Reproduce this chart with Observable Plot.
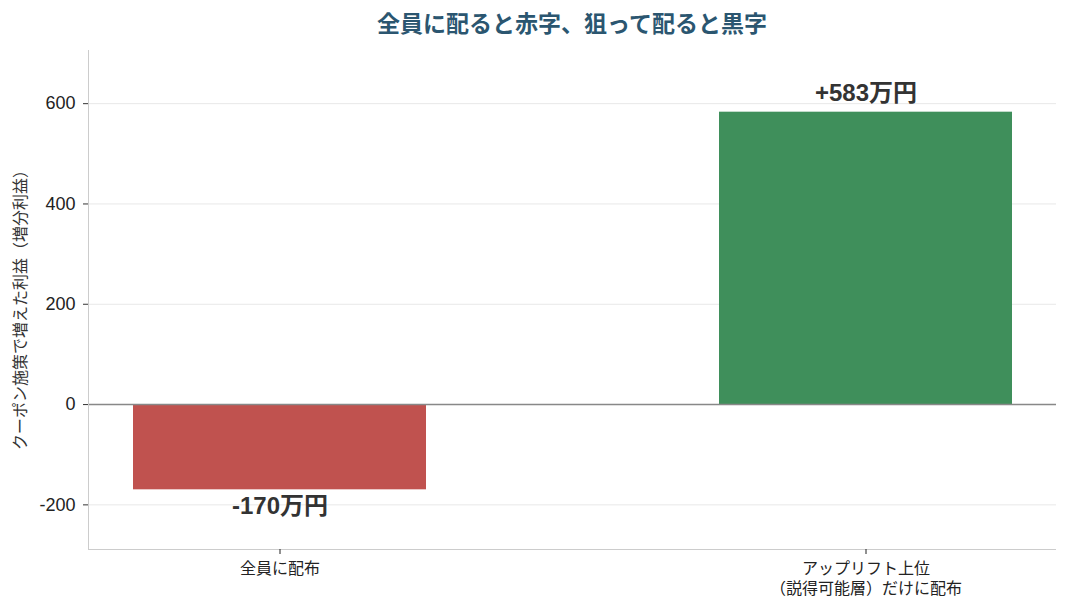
<!DOCTYPE html>
<html>
<head>
<meta charset="utf-8">
<script src="https://cdn.jsdelivr.net/npm/d3@7"></script>
<script src="https://cdn.jsdelivr.net/npm/@observablehq/plot@0.6"></script>
<style>
  body { margin: 0; background: #fff; font-family: "Liberation Sans", "Noto Sans CJK JP", sans-serif; }
  #title { height: 40px; line-height: 44px; text-align: center; padding-left: 77px; font-size: 23px; font-weight: 700; color: #2b5670; font-family: "Noto Sans CJK JP", sans-serif; }
  #chart svg { display: block; }
</style>
</head>
<body>
<div id="title"></div>
<div id="chart"></div>
<script>
const categories = ["全員に配布", "アップリフト上位\n（説得可能層）だけに配布"];
const values = [-170, 583];
const valueLabels = ["-170万円", "+583万円"];
const barColors = ["#c0524f", "#3f8f5b"];
const yTicks = [-200, 0, 200, 400, 600];
const yDomain = [-289, 706];
const yLabel = "クーポン施策で増えた利益（増分利益）";
const titleText = "全員に配ると赤字、狙って配ると黒字";

document.getElementById("title").textContent = titleText;

const data = categories.map((c, i) => ({cat: c, value: values[i], label: valueLabels[i], color: barColors[i]}));

const chart = Plot.plot({
  width: 1067,
  height: 572,
  marginLeft: 88,
  marginRight: 11,
  marginTop: 10,
  marginBottom: 63,
  style: {fontFamily: '"Liberation Sans", "Noto Sans CJK JP", sans-serif', fontSize: "16px", color: "#222", background: "#fff"},
  x: {domain: categories, paddingInner: 0.5, paddingOuter: 0.075, label: null},
  y: {domain: yDomain, ticks: yTicks, label: null},
  color: {type: "identity"},
  marks: [
    Plot.gridY(yTicks, {stroke: "#e8e8e8", strokeOpacity: 1, strokeWidth: 1}),
    Plot.barY(data, {x: "cat", y: "value", fill: "color"}),
    Plot.ruleY([0], {stroke: "#888", strokeWidth: 1.5}),
    Plot.ruleY([yDomain[0]], {stroke: "#ccc", strokeWidth: 1}),
    Plot.frame({anchor: "left", stroke: "#ccc"}),
    Plot.text(data.filter(d => d.value >= 0), {x: "cat", y: "value", text: "label", lineAnchor: "bottom", dy: -11, fontSize: 24, fontWeight: 700, fill: "#333"}),
    Plot.text(data.filter(d => d.value < 0), {x: "cat", y: "value", text: "label", lineAnchor: "top", dy: 7, fontSize: 24, fontWeight: 700, fill: "#333"}),
    Plot.axisY({ticks: yTicks, tickFormat: d => String(d), tickSize: 5, tickPadding: 8, fontSize: 18, label: null, stroke: "#333", fill: "#222"}),
    Plot.axisX({tickSize: 5, tickPadding: 5, fontSize: 16, label: null, lineHeight: 1.25, fill: "#222"}),
    Plot.text([yLabel], {frameAnchor: "left", dx: -68, dy: 6, rotate: -90, textAnchor: "middle", fontSize: 16, fill: "#333"})
  ]
});
document.getElementById("chart").appendChild(chart);
</script>
</body>
</html>
